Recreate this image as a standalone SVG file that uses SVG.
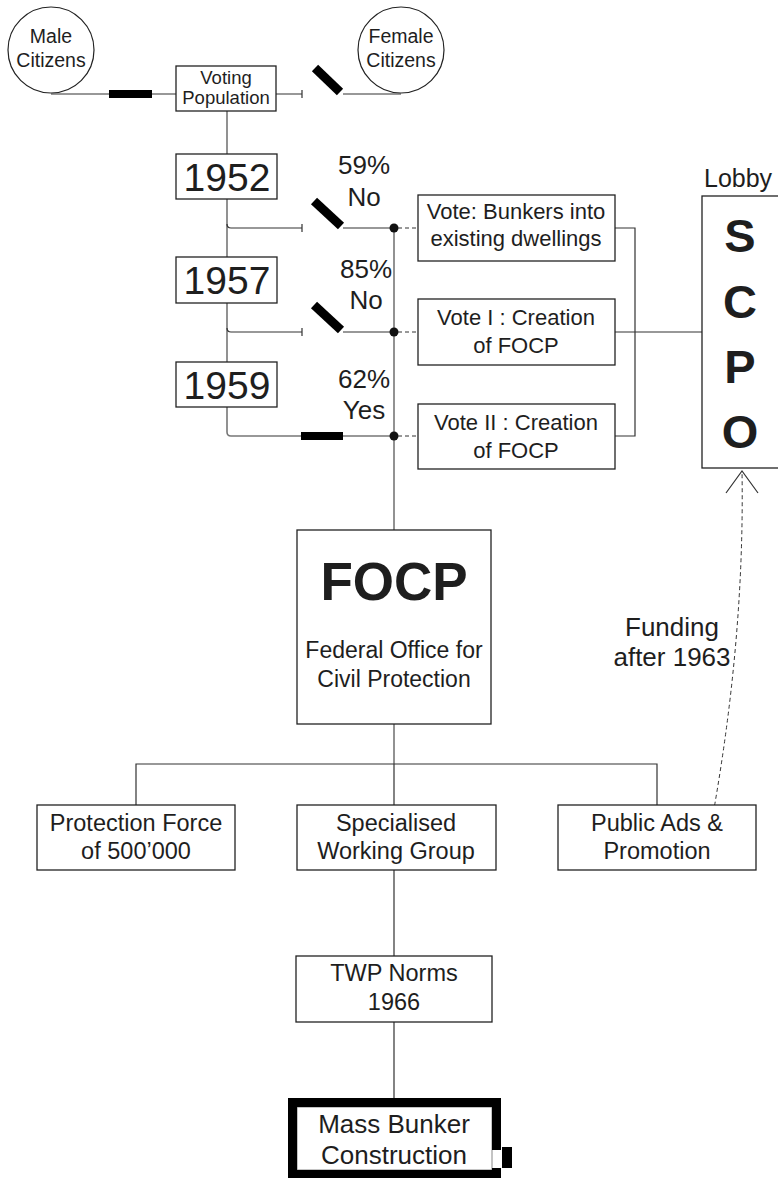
<svg xmlns="http://www.w3.org/2000/svg" width="778" height="1178" viewBox="0 0 778 1178">
<style>
text{font-family:"Liberation Sans",Arial,sans-serif;fill:#1e1e1e;text-anchor:middle}
.box{fill:#fff;stroke:#222;stroke-width:1.3}
.ln{fill:none;stroke:#333;stroke-width:1.2}
.gl{fill:none;stroke:#777;stroke-width:1.6}
.dash{fill:none;stroke:#333;stroke-width:1;stroke-dasharray:4 3}
.sw{stroke:#000;stroke-width:9;stroke-linecap:butt}
.bar{fill:#000}
.dot{fill:#111}
.tc{font-size:19.5px}
.tv{font-size:18.5px}
.t22{font-size:22px}
.t23{font-size:23px}
.t24{font-size:23.5px}
.t26{font-size:26px}
.yr{font-size:39px}
.big{font-size:47px;font-weight:bold}
</style>
<rect width="778" height="1178" fill="#fff"/>
<g id="connectors">
  <path class="ln" d="M51,94 H176"/>
  <rect class="bar" x="109" y="90" width="43" height="8"/>
  <path class="ln" d="M276,94 H302 M302,90 V98"/>
  <line class="sw" x1="315" y1="68" x2="340" y2="92"/>
  <path class="ln" d="M343,94 H401"/>
  <path class="gl" d="M227,111 V154 M227,199 V257 M227,303 V362 M227,407 V432 Q227,436 231,436"/>
  <path class="ln" d="M227,224 Q227,228 231,228 H302 M302,224 V232"/>
  <line class="sw" x1="314" y1="201" x2="341" y2="226"/>
  <path class="ln" d="M343,228 H394"/>
  <path class="ln" d="M227,328 Q227,332 231,332 H302 M302,328 V336"/>
  <line class="sw" x1="314" y1="305" x2="341" y2="330"/>
  <path class="ln" d="M343,332 H394"/>
  <path class="ln" d="M231,436 H301"/>
  <rect class="bar" x="301" y="432" width="42" height="8"/>
  <path class="ln" d="M343,436 H394"/>
  <path class="gl" d="M394,228 V530"/>
  <circle class="dot" cx="394" cy="228" r="4.5"/>
  <circle class="dot" cx="394" cy="332" r="4.5"/>
  <circle class="dot" cx="394" cy="436" r="4.5"/>
  <path class="dash" d="M398,228 H418 M398,332 H418 M398,436 H418"/>
  <path class="ln" d="M615,228 H635 V436 H615 M615,332 H702"/>
  <path class="dash" d="M707,847 Q745,650 742,471"/>
  <path class="ln" d="M726,493 L742,471 L758,493"/>
  <path class="gl" d="M394,724 V764"/>
  <path class="ln" d="M136,805 V764 H657 V805 M394,764 V805"/>
  <path class="ln" d="M394,870 V956 M394,1022 V1098"/>
</g>
<g id="male-citizens">
  <circle cx="51" cy="50" r="43" fill="#fff" stroke="#222" stroke-width="1.2"/>
  <text class="tc" x="51" y="43">Male</text>
  <text class="tc" x="51" y="67">Citizens</text>
</g>
<g id="female-citizens">
  <circle cx="401" cy="50" r="43" fill="#fff" stroke="#222" stroke-width="1.2"/>
  <text class="tc" x="401" y="43">Female</text>
  <text class="tc" x="401" y="67">Citizens</text>
</g>
<g id="voting-population">
  <rect class="box" x="176" y="66" width="100" height="45"/>
  <text class="tv" x="226" y="84">Voting</text>
  <text class="tv" x="226" y="104">Population</text>
</g>
<g id="y1952"><rect class="box" x="176" y="154" width="101" height="45"/><text class="yr" x="227" y="191">1952</text></g>
<g id="y1957"><rect class="box" x="176" y="257" width="101" height="46"/><text class="yr" x="227" y="294">1957</text></g>
<g id="y1959"><rect class="box" x="176" y="362" width="101" height="45"/><text class="yr" x="227" y="399">1959</text></g>
<g id="vote-labels">
  <text class="t26" x="364" y="174">59%</text>
  <text class="t26" x="364" y="206">No</text>
  <text class="t26" x="366" y="278">85%</text>
  <text class="t26" x="366" y="309">No</text>
  <text class="t26" x="364" y="388">62%</text>
  <text class="t26" x="364" y="419">Yes</text>
</g>
<g id="vote-bunkers">
  <rect class="box" x="418" y="195" width="197" height="66"/>
  <text class="t22" x="516" y="219">Vote: Bunkers into</text>
  <text class="t22" x="516" y="246">existing dwellings</text>
</g>
<g id="vote-1">
  <rect class="box" x="418" y="299" width="197" height="66"/>
  <text class="t22" x="516" y="325">Vote I : Creation</text>
  <text class="t22" x="516" y="353">of FOCP</text>
</g>
<g id="vote-2">
  <rect class="box" x="418" y="404" width="197" height="65"/>
  <text class="t22" x="516" y="430">Vote II : Creation</text>
  <text class="t22" x="516" y="458">of FOCP</text>
</g>
<g id="scpo">
  <rect class="box" x="702" y="196" width="90" height="272"/>
  <text x="704" y="187" style="font-size:25px;text-anchor:start">Lobby</text>
  <text class="big" x="740" y="252">S</text>
  <text class="big" x="740" y="318">C</text>
  <text class="big" x="740" y="383">P</text>
  <text class="big" x="740" y="448">O</text>
</g>
<g id="funding-label">
  <text class="t26" x="672" y="636">Funding</text>
  <text class="t26" x="672" y="666">after 1963</text>
</g>
<g id="focp">
  <rect class="box" x="297" y="530" width="194" height="194"/>
  <text x="394" y="600" style="font-size:53px;font-weight:bold">FOCP</text>
  <text class="t23" x="394" y="658">Federal Office for</text>
  <text class="t23" x="394" y="687">Civil Protection</text>
</g>
<g id="protection-force">
  <rect class="box" x="37" y="805" width="198" height="65"/>
  <text class="t24" x="136" y="831">Protection Force</text>
  <text class="t24" x="136" y="859">of 500’000</text>
</g>
<g id="working-group">
  <rect class="box" x="297" y="805" width="199" height="65"/>
  <text class="t24" x="396" y="831">Specialised</text>
  <text class="t24" x="396" y="859">Working Group</text>
</g>
<g id="public-ads">
  <rect class="box" x="558" y="805" width="198" height="65"/>
  <text class="t24" x="657" y="831">Public Ads &amp;</text>
  <text class="t24" x="657" y="859">Promotion</text>
</g>
<g id="twp-norms">
  <rect class="box" x="296" y="956" width="196" height="66"/>
  <text class="t24" x="394" y="981">TWP Norms</text>
  <text class="t24" x="394" y="1010">1966</text>
</g>
<g id="mass-bunker">
  <rect x="297" y="1107" width="195" height="63" fill="#fff" stroke="#888" stroke-width="1"/>
  <path d="M496.5,1150 V1102.5 H292.5 V1174.5 H496.5 V1168" fill="none" stroke="#000" stroke-width="9"/>
  <rect class="bar" x="502" y="1147" width="10" height="21"/>
  <text class="t26" x="394" y="1133">Mass Bunker</text>
  <text class="t26" x="394" y="1164">Construction</text>
</g>
</svg>
